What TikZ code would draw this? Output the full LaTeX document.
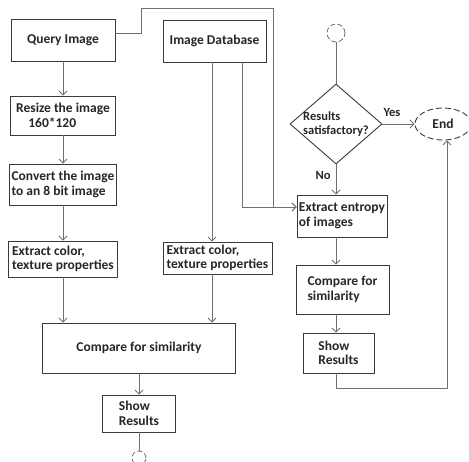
\documentclass[tikz,border=0pt]{standalone}
\usepackage{fontspec}
\setmainfont{Carlito}
\usetikzlibrary{arrows.meta,shapes.geometric}
\definecolor{edgegray}{HTML}{3A3A3A}
\definecolor{linegray}{HTML}{707070}
\tikzset{
  box/.style={draw=edgegray, line width=0.9pt, rectangle, align=left, inner sep=1.5pt,
    font=\bfseries\fontsize{13.5}{14.5}\selectfont, text=black!85},
  lbl/.style={font=\bfseries\fontsize{12.5}{14.5}\selectfont, text=black!85},
  arr/.style={draw=linegray, line width=0.8pt, -{Straight Barb[length=4pt,width=8pt]}},
  conn/.style={draw=linegray, line width=0.8pt},
  endpt/.style={circle, draw=linegray, line width=0.8pt, dash pattern=on 5pt off 2.5pt, inner sep=0pt}
}
\begin{document}
\begin{tikzpicture}[x=1pt,y=-1pt]
  \useasboundingbox (0,0) rectangle (469,461);
  % left column
  \node[box, minimum width=104pt, minimum height=42pt] (query) at (63,40) {Query Image};
  \node[box, minimum width=105pt, minimum height=39pt] (resize) at (63,115.5) {Resize the image\\\hspace{0.9em}160*120};
  \node[box, minimum width=107pt, minimum height=41pt] (convert) at (63,184.5) {Convert the image\\to an 8 bit image};
  \node[box, minimum width=109pt, minimum height=36pt] (extl) at (63,259) {Extract color,\\texture properties};
  \node[box, minimum width=103pt, minimum height=42pt] (imgdb) at (214.5,41) {Image Database};
  \node[box, minimum width=109pt, minimum height=32pt] (extr) at (217.5,258) {Extract color,\\texture properties};
  \node[box, minimum width=193pt, minimum height=50pt] (cmpl) at (139,348) {Compare for similarity};
  \node[box, minimum width=73pt, minimum height=37pt] (showl) at (139,413.5) {Show\\Results};
  \node[endpt, minimum size=14pt] (botc) at (139,458) {};
  % right column
  \node[endpt, minimum size=18pt] (topc) at (336,33) {};
  \node[diamond, draw=edgegray, line width=0.9pt, minimum width=92pt, minimum height=80pt, inner sep=0pt,
    label={[lbl, align=left]center:Results\\satisfactory?}] (check) at (336,124) {};
  \node[ellipse, draw=edgegray, line width=0.9pt, dash pattern=on 6pt off 3pt, minimum width=56pt, minimum height=32pt,
    font=\bfseries\fontsize{13.5}{14.5}\selectfont, text=black!85] (endn) at (443,124) {End};
  \node[box, minimum width=90pt, minimum height=42pt] (entropy) at (342,216) {Extract entropy\\ of images};
  \node[box, minimum width=93pt, minimum height=49pt] (cmpr) at (342.5,289.5) {Compare for\\ similarity};
  \node[box, minimum width=71pt, minimum height=40pt] (showr) at (338.5,353) {Show\\Results};
  \node[lbl] (yes) at (392,112) {Yes};
  \node[lbl] (no) at (323,175) {No};
  \coordinate (topleft) at (141,8);
  \coordinate (topright) at (273,8);
  \coordinate (dbleft) at (212,62);
  \coordinate (dbright) at (242,62);
  \coordinate (back) at (447,388);
  % connectors
  \draw[arr] (query) -- (resize);
  \draw[arr] (resize) -- (convert);
  \draw[arr] (convert) -- (extl);
  \draw[arr] (extl.south) -- (extl.south |- cmpl.north);
  \draw[arr] (dbleft) -- (dbleft |- extr.north);
  \draw[arr] (extr.south -| dbleft) -- (dbleft |- cmpl.north);
  \draw[arr] (cmpl) -- (showl);
  \draw[conn] (showl) -- (botc);
  \draw[arr] ([yshift=7pt]query.east) -| (topleft) -- (topright) |- ([yshift=9pt]entropy.west);
  \draw[arr] (dbright) |- ([yshift=9pt]entropy.west);
  \draw[conn] (topc) -- (check);
  \draw[arr] (check.east) -- (endn.west);
  \draw[arr] (check.south) -- (check.south |- entropy.north);
  \draw[arr] (entropy.south -| check) -- (cmpr.north -| check);
  \draw[arr] (cmpr.south -| check) -- (showr.north -| check);
  \draw[arr] (showr.south -| check) |- (back) -- (back |- endn.south);
\end{tikzpicture}
\end{document}
